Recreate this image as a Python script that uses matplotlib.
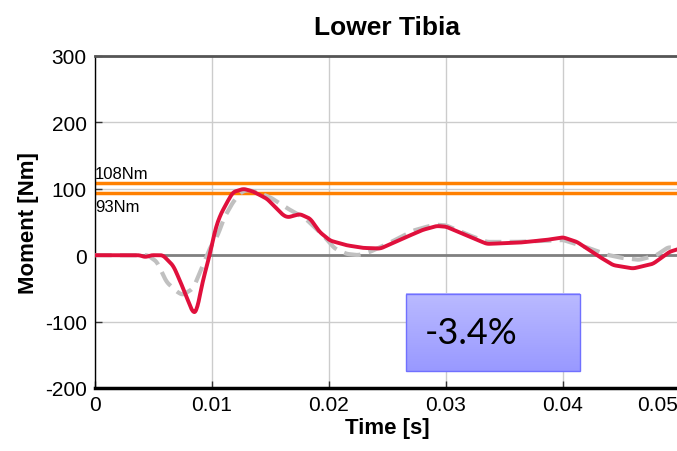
import numpy as np
import matplotlib
matplotlib.use("Agg")
import matplotlib.pyplot as plt
import matplotlib.transforms as mtransforms
from matplotlib.patches import Rectangle

plt.rcParams['font.family'] = ['Liberation Sans', 'DejaVu Sans']
plt.rcParams['axes.unicode_minus'] = False

# Test (red) lower tibia moment
t_test = [0.0, 0.0038, 0.0043, 0.0048, 0.0058, 0.0067, 0.0073, 0.0079, 0.0084, 0.0087,
          0.0092, 0.0098, 0.0103, 0.0107, 0.0113, 0.0118, 0.0127, 0.0135, 0.0147, 0.0161,
          0.0165, 0.0175, 0.0184, 0.0192, 0.0201, 0.0215, 0.0229, 0.0244, 0.0263, 0.0280,
          0.0292, 0.0300, 0.0320, 0.0335, 0.0363, 0.0386, 0.0400, 0.0412, 0.0429, 0.0443,
          0.0460, 0.0477, 0.0491, 0.0500]
m_test = [0, 0, -3, 0, 0, -16, -40, -66, -88, -84,
          -40, 0, 40, 60, 80, 95, 100, 96, 85, 60,
          57, 62, 55, 35, 22, 15, 11, 10, 25, 38,
          44, 43, 28, 17, 19, 23, 27, 20, 0, -15,
          -20, -13, 5, 10]

# Simulation (grey dashed) lower tibia moment
t_sim = [0.0, 0.0045, 0.0053, 0.0061, 0.0070, 0.0075, 0.0084, 0.0092, 0.0098, 0.0105,
         0.0110, 0.0118, 0.0125, 0.0130, 0.0137, 0.0150, 0.0165, 0.0175, 0.0180, 0.0195,
         0.0205, 0.0215, 0.0225, 0.0235, 0.0250, 0.0272, 0.0290, 0.0300, 0.0320, 0.0335,
         0.0360, 0.0400, 0.0420, 0.0437, 0.0450, 0.0465, 0.0480, 0.0490, 0.0500]
m_sim = [0, 0, -10, -40, -55, -60, -50, -16, 10, 30,
         55, 80, 95, 98, 96, 87, 70, 60, 55, 30,
         10, 2, 0, 5, 17, 37, 46, 45, 30, 20,
         20, 23, 12, 1, -4, -7, 0, 12, 10]

limit_upper = 108
limit_lower = 93
deviation = "-3.4%"

x_ticks = [0, 0.01, 0.02, 0.03, 0.04, 0.05]
x_ticklabels = ["0", "0.01", "0.02", "0.03", "0.04", "0.05"]
y_ticks = [-200, -100, 0, 100, 200, 300]


def smooth(tk, vk, n=1000, k=4):
    tt = np.linspace(tk[0], tk[-1], n)
    vv = np.interp(tt, tk, vk)
    pad = np.pad(vv, k, mode='edge')
    w = np.ones(2 * k + 1) / (2 * k + 1)
    return tt, np.convolve(pad, w, mode='valid')


fig = plt.figure(figsize=(6.77, 4.52), dpi=100)
ax = fig.add_axes([0.1403, 0.1394, 0.864, 0.7345])
ax.set_xlim(0, 0.05)
ax.set_ylim(-200, 300)

ax.set_xticks(x_ticks)
ax.set_xticklabels(x_ticklabels)
ax.set_yticks(y_ticks)
ax.grid(True, color='#cccccc', linewidth=1.0)
ax.set_axisbelow(True)
ax.tick_params(axis='both', labelsize=15, direction='in', length=5, width=1,
               color='#333333', labelcolor='black')
ax.tick_params(axis='y', pad=6)
ax.tick_params(axis='x', pad=5)

# last x label sits pulled in toward the plot
last = ax.get_xticklabels()[-1]
last.set_transform(last.get_transform() +
                   mtransforms.ScaledTranslation(-0.22, 0, fig.dpi_scale_trans))

ax.spines['top'].set_color('#555555')
ax.spines['top'].set_linewidth(2)
ax.spines['left'].set_color('black')
ax.spines['left'].set_linewidth(1)
ax.spines['bottom'].set_color('black')
ax.spines['bottom'].set_linewidth(2.5)
ax.spines['right'].set_visible(False)

ax.axhline(0, color='#808080', linewidth=2, zorder=1.5)
ax.axhline(limit_upper, color='#ff8000', linewidth=2.5, zorder=2)
ax.axhline(limit_lower, color='#ff8000', linewidth=2.5, zorder=2)
ax.text(0.0, limit_upper + 4, f"{limit_upper}Nm", fontsize=12, ha='left', va='bottom')
ax.text(0.0, limit_lower - 9, f"{limit_lower}Nm", fontsize=12, ha='left', va='top')

ts, ms = smooth(t_sim, m_sim)
ax.plot(ts, ms, color='#c0c0c0', linewidth=3, linestyle=(0, (4, 2)), zorder=3)
tt, mt = smooth(t_test, m_test)
ax.plot(tt, mt, color='#e0103c', linewidth=2.8, zorder=4)

# Deviation box with vertical gradient
bx0, bx1, by0, by1 = 0.02658, 0.04145, -175, -58
grad = np.linspace(0, 1, 64).reshape(-1, 1)
c_top = np.array([0.73, 0.73, 1.0])
c_bot = np.array([0.60, 0.60, 1.0])
img = c_top + (c_bot - c_top) * grad[:, :, None]
ax.imshow(img, extent=[bx0, bx1, by0, by1], origin='upper', aspect='auto', zorder=5)
ax.add_patch(Rectangle((bx0, by0), bx1 - bx0, by1 - by0, fill=False,
                       edgecolor='#7070ff', linewidth=1, zorder=6))
ax.text(bx0 + 0.0016, (by0 + by1) / 2, deviation, fontsize=26, family=['Lato', 'DejaVu Sans'],
        ha='left', va='center', zorder=7)
ax.set_xlim(0, 0.05)
ax.set_ylim(-200, 300)

ax.set_title("Lower Tibia", fontsize=19, fontweight='bold', pad=16)
ax.set_xlabel("Time [s]", fontsize=16, fontweight='bold', labelpad=2)
ax.set_ylabel("Moment [Nm]", fontsize=16, fontweight='bold', labelpad=4)

fig.savefig("out.png", dpi=100)
